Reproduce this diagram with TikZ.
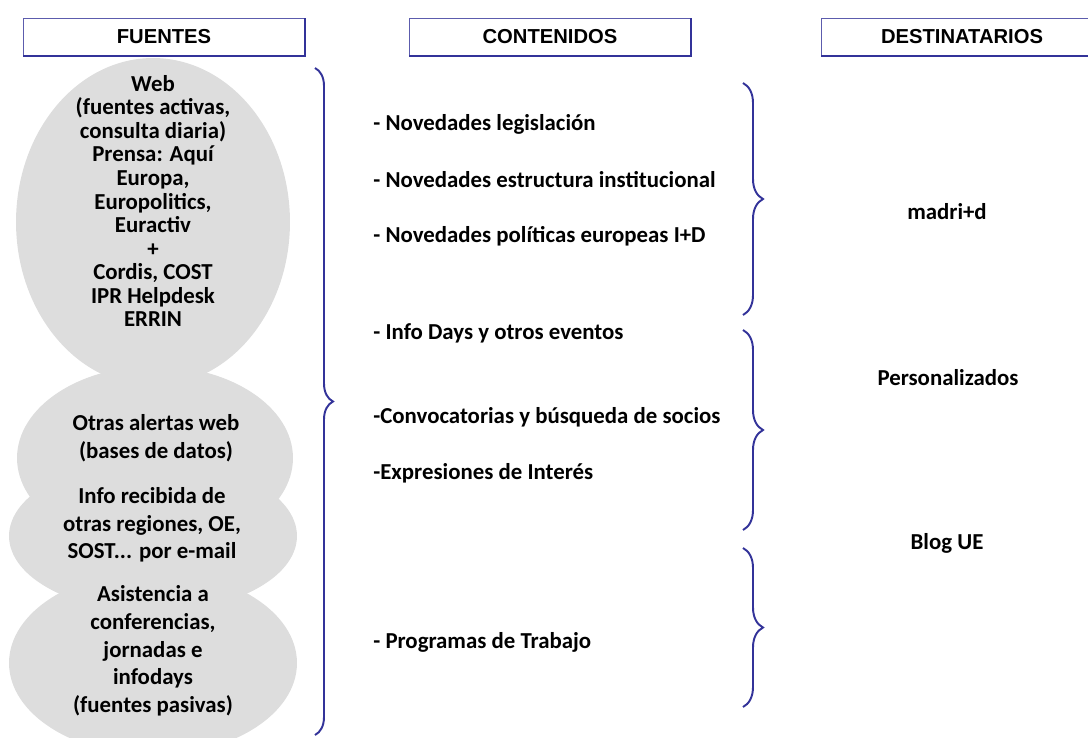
\documentclass[tikz,border=0pt]{standalone}
\usepackage{fontspec}
\setmainfont{Carlito}
\newfontfamily\headfont{Liberation Sans}
\usetikzlibrary{decorations.pathreplacing, shapes.geometric}
\definecolor{llave}{RGB}{51,51,153}
\definecolor{gris}{RGB}{221,221,221}

\begin{document}
\begin{tikzpicture}[x=0.02cm, y=-0.02cm,
        cabecera/.style={draw=llave!80, line width=0.5pt, fill=white, minimum width=5.62cm,
            minimum height=0.74cm, inner sep=0pt, font=\headfont\bfseries\fontsize{11.5}{13}\selectfont},
        nube/.style={ellipse, fill=gris, inner sep=0pt},
        fuente/.style={align=center, inner sep=0pt, font=\bfseries\fontsize{13}{13.4}\selectfont},
        fuenteb/.style={fuente, font=\bfseries\fontsize{13}{15.8}\selectfont},
        contenido/.style={anchor=west, inner sep=0pt, font=\bfseries\fontsize{13}{15}\selectfont},
        destino/.style={inner sep=0pt, font=\bfseries\fontsize{13}{15}\selectfont},
        llaveizq/.style={draw=llave, line width=1.1pt, decorate, decoration={brace, amplitude=0.36cm}},
        llaveder/.style={draw=llave, line width=1.1pt, decorate, decoration={brace, amplitude=0.4cm}}]
        \clip (0,0) rectangle (1088,737);

        % cabeceras
        \node[cabecera] (hf) at (164,37) {FUENTES};
        \node[cabecera] (hc) at (550,37) {CONTENIDOS};
        \node[cabecera] (hd) at (962,37) {DESTINATARIOS};
        \foreach \h in {hf,hc,hd}
          \draw[llave, line width=1.2pt] (\h.south west) -- (\h.south east) -- (\h.north east);

        % fuentes
        \node[nube, minimum width=5.48cm, minimum height=6.56cm] (nA) at (153,222) {};
        \node[nube, minimum width=5.52cm, minimum height=3.68cm] (nB) at (155,458) {};
        \node[nube, minimum width=5.76cm, minimum height=3.04cm] (nC) at (153,536) {};
        \node[nube, minimum width=5.76cm, minimum height=3.68cm] (nD) at (153,663) {};

        \node[fuente] (fA) at (153,201) {Web\\(fuentes activas,\\consulta diaria)\\Prensa: Aquí\\Europa,\\Europolitics,\\Euractiv\\+\\Cordis, COST\\IPR Helpdesk\\ERRIN};
        \node[fuenteb] (fB) at (156,438) {Otras alertas web\\(bases de datos)};
        \node[fuenteb] (fC) at (152,525) {Info recibida de\\otras regiones, OE,\\SOST... por e-mail};
        \node[fuenteb] (fD) at (153,651) {Asistencia a\\conferencias,\\jornadas e\\infodays\\(fuentes pasivas)};

        % contenidos
        \node[contenido] (c1) at (373,124) {- Novedades legislación};
        \node[contenido] (c2) at (373,180) {- Novedades estructura institucional};
        \node[contenido] (c3) at (373,236) {- Novedades políticas europeas I+D};
        \node[contenido] (c4) at (373,333) {- Info Days y otros eventos};
        \node[contenido] (c5) at (373,417) {-Convocatorias y búsqueda de socios};
        \node[contenido] (c6) at (373,473) {-Expresiones de Interés};
        \node[contenido] (c7) at (373,642) {- Programas de Trabajo};

        % destinatarios
        \node[destino] (d1) at (947,212) {madri+d};
        \node[destino] (d2) at (948,378) {Personalizados};
        \node[destino] (d3) at (947,543) {Blog UE};

        % llaves
        \coordinate (l0a) at (315,68);
        \coordinate (l0b) at (315,735);
        \coordinate (l1a) at (743,83);
        \coordinate (l1b) at (743,315);
        \coordinate (l2a) at (743,330);
        \coordinate (l2b) at (743,530);
        \coordinate (l3a) at (743,548);
        \coordinate (l3b) at (743,707);
        \draw[llaveizq] (l0a) -- (l0b);
        \foreach \n in {1,2,3}
          \draw[llaveder] (l\n a) -- (l\n b);
\end{tikzpicture}
\end{document}
